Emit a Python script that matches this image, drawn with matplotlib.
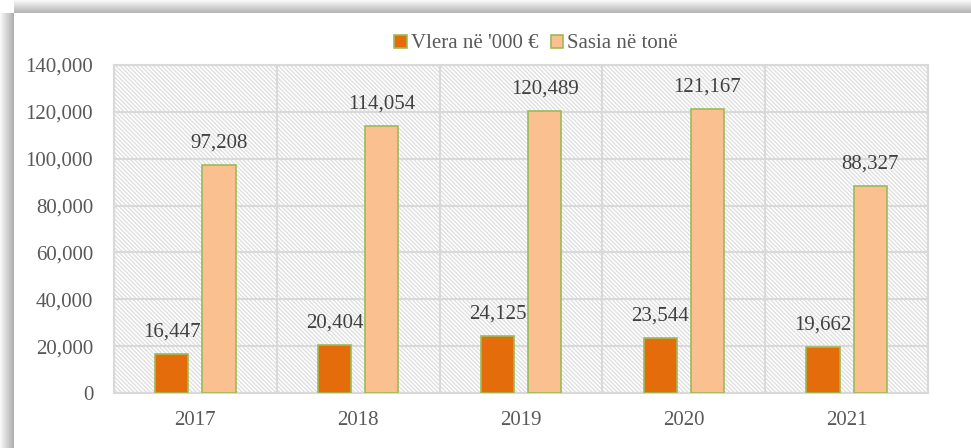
import matplotlib
matplotlib.use("Agg")
import matplotlib.pyplot as plt
from matplotlib.patches import Rectangle
import numpy as np

years = ["2017", "2018", "2019", "2020", "2021"]
vlera = [16447, 20404, 24125, 23544, 19662]
sasia = [97208, 114054, 120489, 121167, 88327]
series_names = ["Vlera në '000 €", "Sasia në tonë"]
yticks = [0, 20000, 40000, 60000, 80000, 100000, 120000, 140000]

plt.rcParams['font.family'] = ['Liberation Serif', 'DejaVu Serif']
plt.rcParams['hatch.linewidth'] = 1.0

W, H = 971, 448
fig = plt.figure(figsize=(W/100, H/100), dpi=100)

# shadow on left/top
for i in range(14):
    a = 0.05 + 0.04*i
    fig.patches.append(Rectangle((i/W, 0), 1/W, 1 - 13/H, transform=fig.transFigure,
                                 facecolor=(0.45, 0.45, 0.45), alpha=min(a, 0.6), edgecolor='none'))
for i in range(13):
    a = 0.05 + 0.04*i
    fig.patches.append(Rectangle((14/W, 1 - (i+1)/H), 1 - 14/W, 1/H, transform=fig.transFigure,
                                 facecolor=(0.45, 0.45, 0.45), alpha=min(a, 0.6), edgecolor='none'))

ax = fig.add_axes([114/W, 1 - 393/H, (928-114)/W, (393-65)/H])
ax.set_facecolor('white')

x = np.arange(len(years))
orange = '#E46C0A'
peach = '#FAC090'
green = '#9BBB59'
grid = '#D9D9D9'
txt = '#595959'
fs = 15

# hatch background
ax.add_patch(Rectangle((0, 0), 1, 1, transform=ax.transAxes, facecolor='none',
                       edgecolor='#E0E0E0', hatch='\\\\\\\\\\\\\\\\', linewidth=0, zorder=0))

off = 0.145
w = 0.205
b1 = ax.bar(x - off, vlera, w, color=orange, edgecolor=green, linewidth=1.2, zorder=3, label=series_names[0])
b2 = ax.bar(x + off, sasia, w, color=peach, edgecolor=green, linewidth=1.2, zorder=3, label=series_names[1])

for xi, v in zip(x - off, vlera):
    ax.annotate(f"{v:,}", (xi, v), xytext=(0, 9), textcoords='offset points',
                ha='center', va='bottom', fontsize=fs, color='#404040', zorder=5)
for xi, v in zip(x + off, sasia):
    ax.annotate(f"{v:,}", (xi, v), xytext=(0, 9), textcoords='offset points',
                ha='center', va='bottom', fontsize=fs, color='#404040', zorder=5)

ax.set_xlim(-0.5, len(years) - 0.5)
ax.set_ylim(0, 140000)
ax.set_yticks(yticks)
ax.set_yticklabels([f"{t:,}" for t in yticks])
ax.set_xticks(x)
ax.set_xticklabels(years)
ax.tick_params(axis='both', length=0, labelsize=fs, colors=txt)
ax.tick_params(axis='y', pad=15)
ax.tick_params(axis='x', pad=13)

for t in yticks:
    ax.axhline(t, color=grid, lw=1.5, zorder=1)
for b in np.arange(-0.5, len(years), 1.0):
    ax.axvline(b, color=grid, lw=1.5, zorder=1)
for s in ax.spines.values():
    s.set_color(grid)
    s.set_linewidth(1.5)

leg = fig.legend(handles=[b1, b2], labels=series_names, loc='center', bbox_to_anchor=(536/W, 1 - 44/H),
                 ncol=2, frameon=False, fontsize=fs, handlelength=0.6, handleheight=0.6,
                 handletextpad=0.2, columnspacing=0.6, labelcolor=txt)

fig.savefig('out.png', dpi=100)
